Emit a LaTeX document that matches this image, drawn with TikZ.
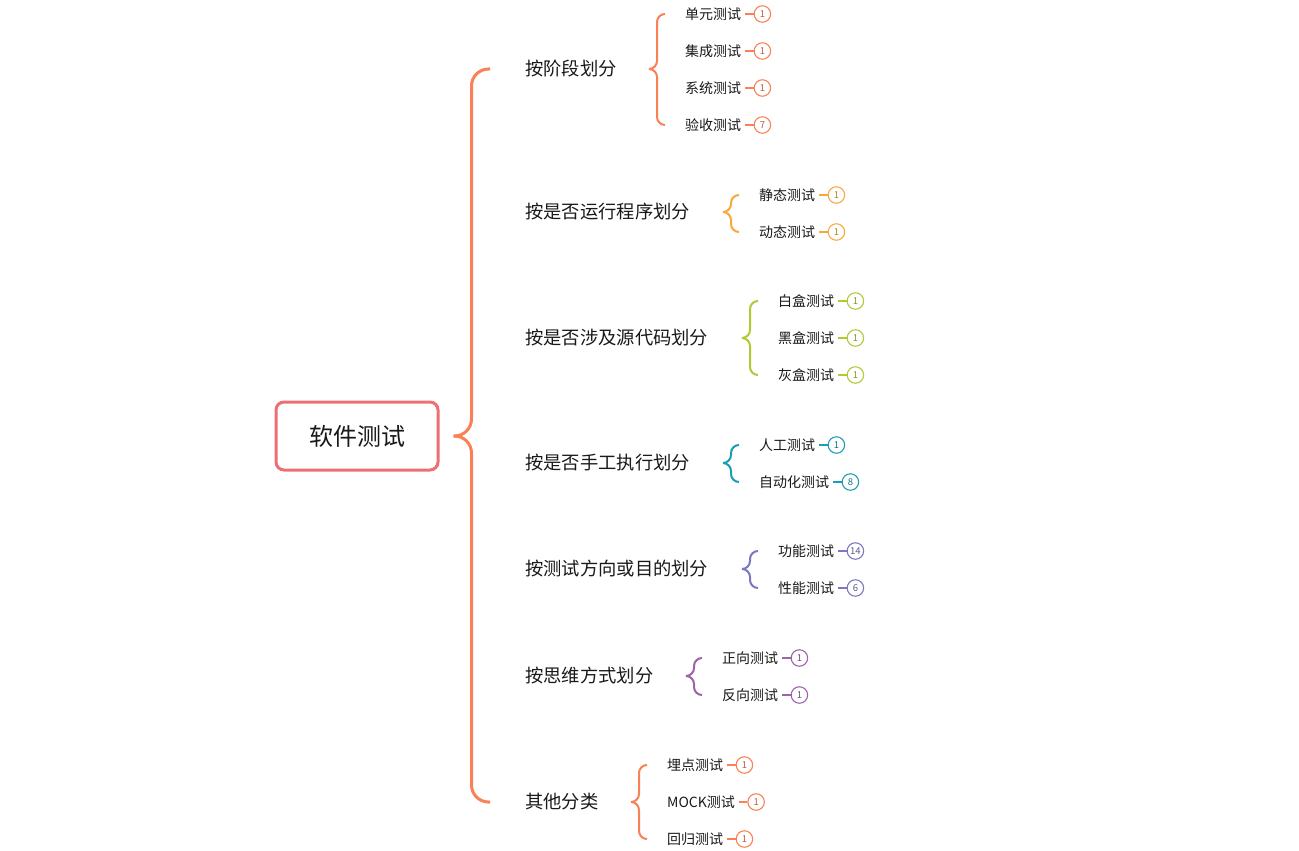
\documentclass[tikz,border=0pt]{standalone}
\usepackage{fontspec}
\newfontfamily\cjk{Noto Sans CJK SC}
\usetikzlibrary{calc}
\definecolor{rootc}{HTML}{EE6F73}
\definecolor{cA}{HTML}{FA8155}
\definecolor{cB}{HTML}{F9A93A}
\definecolor{cC}{HTML}{B2C935}
\definecolor{cD}{HTML}{1C9DB5}
\definecolor{cE}{HTML}{7B77C1}
\definecolor{cF}{HTML}{9E63A8}
\newcommand\leafb[5]{%
  \node[leaf] (#1) at (#3) {#4};
  \node[badge=#2] (#1n) at ([xshift=21]#1.east) {#5};
  \draw[tick=#2] ([xshift=4]#1.east) -- (#1n);}
\begin{document}
\begin{tikzpicture}[x=1pt,y=-1pt,
 root/.style={draw=rootc,line width=3pt,rounded corners=8pt,minimum width=162pt,minimum height=68pt,font=\cjk\fontsize{24}{28}\selectfont,text=black!90},
 cat/.style={anchor=west,inner sep=0pt,font=\cjk\fontsize{18.3}{22}\selectfont,text=black!90},
 leaf/.style={anchor=west,inner sep=0pt,font=\cjk\fontsize{14}{16}\selectfont,text=black!90},
 badge/.style={circle,draw=#1,line width=1.1pt,minimum size=16.5pt,inner sep=0pt,font=\cjk\fontsize{9.5}{11}\selectfont,text=#1!75!black},
 br/.style={draw=#1,line width=2pt,rounded corners=8pt},
 bigbr/.style={draw=cA,line width=3pt,rounded corners=17pt},
 tick/.style={draw=#1,line width=1.5pt}
]
\useasboundingbox (0,0) rectangle (1299,851);
\fill[white] (0,0) rectangle (1299,851);

\node[root] (root) at (357,436) {软件测试};
\coordinate (T) at ([xshift=14]root.east);

\node[cat] (k1) at (525,69) {按阶段划分};
\node[cat] (k2) at (525,212) {按是否运行程序划分};
\node[cat] (k3) at (525,338) {按是否涉及源代码划分};
\node[cat] (k4) at (525,463) {按是否手工执行划分};
\node[cat] (k5) at (525,569) {按测试方向或目的划分};
\node[cat] (k6) at (525,676) {按思维方式划分};
\node[cat] (k7) at (525,802) {其他分类};

\draw[bigbr] ([xshift=-35]k1.west) -| ([xshift=18]T) -- (T);
\draw[bigbr] ([xshift=-35]k7.west) -| ([xshift=18]T) -- (T);

% group 1
\leafb{a1}{cA}{685,14}{单元测试}{1}
\leafb{a2}{cA}{685,51}{集成测试}{1}
\leafb{a3}{cA}{685,88}{系统测试}{1}
\leafb{a4}{cA}{685,125}{验收测试}{7}
\coordinate (t1) at ([xshift=-36]a1.west |- k1);
\draw[br=cA] ([xshift=-20]a1.west) -| ([xshift=8]t1) -- (t1);
\draw[br=cA] ([xshift=-20]a4.west) -| ([xshift=8]t1) -- (t1);

% group 2
\leafb{b1}{cB}{759,195}{静态测试}{1}
\leafb{b2}{cB}{759,232}{动态测试}{1}
\coordinate (t2) at ([xshift=-36]b1.west |- k2);
\draw[br=cB] ([xshift=-20]b1.west) -| ([xshift=8]t2) -- (t2);
\draw[br=cB] ([xshift=-20]b2.west) -| ([xshift=8]t2) -- (t2);

% group 3
\leafb{c1}{cC}{778,301}{白盒测试}{1}
\leafb{c2}{cC}{778,338}{黑盒测试}{1}
\leafb{c3}{cC}{778,375}{灰盒测试}{1}
\coordinate (t3) at ([xshift=-36]c1.west |- k3);
\draw[br=cC] ([xshift=-20]c1.west) -| ([xshift=8]t3) -- (t3);
\draw[br=cC] ([xshift=-20]c3.west) -| ([xshift=8]t3) -- (t3);

% group 4
\leafb{d1}{cD}{759,445}{人工测试}{1}
\leafb{d2}{cD}{759,482}{自动化测试}{8}
\coordinate (t4) at ([xshift=-36]d1.west |- k4);
\draw[br=cD] ([xshift=-20]d1.west) -| ([xshift=8]t4) -- (t4);
\draw[br=cD] ([xshift=-20]d2.west) -| ([xshift=8]t4) -- (t4);

% group 5
\leafb{e1}{cE}{778,551}{功能测试}{14}
\leafb{e2}{cE}{778,588}{性能测试}{6}
\coordinate (t5) at ([xshift=-36]e1.west |- k5);
\draw[br=cE] ([xshift=-20]e1.west) -| ([xshift=8]t5) -- (t5);
\draw[br=cE] ([xshift=-20]e2.west) -| ([xshift=8]t5) -- (t5);

% group 6
\leafb{f1}{cF}{722,658}{正向测试}{1}
\leafb{f2}{cF}{722,695}{反向测试}{1}
\coordinate (t6) at ([xshift=-36]f1.west |- k6);
\draw[br=cF] ([xshift=-20]f1.west) -| ([xshift=8]t6) -- (t6);
\draw[br=cF] ([xshift=-20]f2.west) -| ([xshift=8]t6) -- (t6);

% group 7
\leafb{g1}{cA}{667,765}{埋点测试}{1}
\leafb{g2}{cA}{667,802}{MOCK测试}{1}
\leafb{g3}{cA}{667,839}{回归测试}{1}
\coordinate (t7) at ([xshift=-36]g1.west |- k7);
\draw[br=cA] ([xshift=-20]g1.west) -| ([xshift=8]t7) -- (t7);
\draw[br=cA] ([xshift=-20]g3.west) -| ([xshift=8]t7) -- (t7);
\end{tikzpicture}
\end{document}
